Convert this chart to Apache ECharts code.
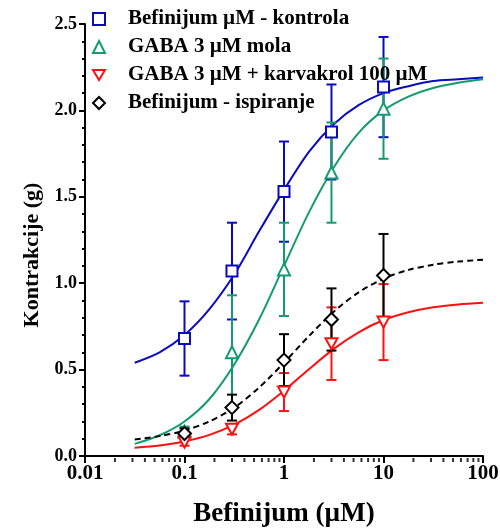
<!DOCTYPE html>
<html>
<head>
<meta charset="utf-8">
<script src="https://cdn.jsdelivr.net/npm/echarts@6/dist/echarts.min.js"></script>
<style>html,body{margin:0;padding:0;background:#fff}#c{width:500px;height:530px}</style>
</head>
<body>
<div id="c"></div>
<script>
// ---- data ----
const doses = [0.1, 0.3, 1, 3, 10];
const kontrolaMean = [0.68, 1.07, 1.53, 1.875, 2.135];
const kontrolaErr  = [0.215, 0.28, 0.29, 0.275, 0.29];
const gabaMean = [0.14, 0.60, 1.08, 1.64, 2.01];
const gabaErr  = [0.03, 0.33, 0.27, 0.29, 0.29];
const karvMean = [0.08, 0.155, 0.37, 0.65, 0.775];
const karvErr  = [0.02, 0.03, 0.11, 0.21, 0.22];
const ispMean = [0.13, 0.28, 0.555, 0.79, 1.045];
const ispErr  = [0.03, 0.075, 0.15, 0.18, 0.24];

// fitted curves (quarter-decade steps)
const curveX = [0.0316, 0.0562, 0.1, 0.178, 0.316, 0.562, 1, 1.78, 3.16, 5.62, 10, 17.8, 31.6, 56.2, 100];
const kontrolaCurve = [0.54, 0.60, 0.70, 0.85, 1.05, 1.30, 1.54, 1.76, 1.92, 2.03, 2.10, 2.14, 2.17, 2.18, 2.19];
const gabaCurve     = [0.07, 0.12, 0.20, 0.33, 0.53, 0.79, 1.10, 1.41, 1.67, 1.87, 2.00, 2.08, 2.13, 2.16, 2.18];
const karvCurve     = [0.048, 0.061, 0.084, 0.122, 0.181, 0.267, 0.378, 0.502, 0.620, 0.716, 0.787, 0.832, 0.861, 0.877, 0.887];
const ispCurve      = [0.096, 0.115, 0.147, 0.20, 0.28, 0.396, 0.54, 0.694, 0.835, 0.947, 1.026, 1.077, 1.107, 1.125, 1.136];

const seriesNames = ['Befinijum \u00b5M - kontrola', 'GABA 3 \u00b5M mola', 'GABA 3 \u00b5M + karvakrol 100 \u00b5M', 'Befinijum - ispiranje'];
const xTickValues = [0.01, 0.1, 1, 10, 100];
const xTickLabels = ['0.01', '0.1', '1', '10', '100'];
const xMinorTicks = [0.02,0.03,0.04,0.05,0.06,0.07,0.08,0.09,
                     0.2,0.3,0.4,0.5,0.6,0.7,0.8,0.9,
                     2,3,4,5,6,7,8,9,
                     20,30,40,50,60,70,80,90];
const xTitle = 'Befinijum (\u00b5M)';
const yTitle = 'Kontrakcije (g)';

// ---- styles ----
const BLUE = '#0A0AC2', GREEN = '#139B6F', RED = '#FF1010', BLACK = '#000000';
const FONT = 'Liberation Serif';

function pairs(xs, ys) { return xs.map((x, i) => [x, ys[i]]); }
function errData(xs, m, e) { return xs.map((x, i) => [x, m[i] - e[i], m[i] + e[i]]); }

function errSeries(data, color) {
  return {
    type: 'custom', data: data, silent: true, z: 3,
    renderItem: function (params, api) {
      const x = api.value(0), lo = api.value(1), hi = api.value(2);
      const pt = api.coord([x, hi]), pb = api.coord([x, lo]);
      const w = 5;
      const st = { stroke: color, lineWidth: 2 };
      return { type: 'group', children: [
        { type: 'line', shape: { x1: pt[0], y1: pt[1], x2: pb[0], y2: pb[1] }, style: st },
        { type: 'line', shape: { x1: pt[0] - w, y1: pt[1], x2: pt[0] + w, y2: pt[1] }, style: st },
        { type: 'line', shape: { x1: pb[0] - w, y1: pb[1], x2: pb[0] + w, y2: pb[1] }, style: st }
      ]};
    }
  };
}
function curveSeries(ys, color, dashed) {
  return {
    type: 'line', data: pairs(curveX, ys), smooth: 0.3, showSymbol: false, silent: true, z: 2,
    lineStyle: { color: color, width: 2, type: dashed ? [6, 4] : 'solid' }
  };
}
function markSeries(name, xs, ys, color, symbol, size) {
  return {
    name: name, type: 'scatter', data: pairs(xs, ys), symbol: symbol, symbolSize: size, z: 4,
    itemStyle: { color: '#ffffff', borderColor: color, borderWidth: 2, opacity: 1 }
  };
}

const chart = echarts.init(document.getElementById('c'), null, { renderer: 'canvas' });
chart.setOption({
  animation: false,
  backgroundColor: '#ffffff',
  grid: { left: 85, right: 17, top: 24, bottom: 74, containLabel: false, outerBoundsMode: 'none' },
  legend: {
    data: seriesNames,
    orient: 'vertical', left: 87, top: 3,
    itemWidth: 12, itemHeight: 12, itemGap: 6,
    textStyle: { fontFamily: FONT, fontWeight: 'bold', fontSize: 21, color: '#000', lineHeight: 22, padding: [0, 0, 0, 18] },
    selectedMode: false
  },
  xAxis: {
    type: 'log', logBase: 10, min: 0.01, max: 100,
    name: xTitle, nameLocation: 'middle', nameGap: 45,
    nameTextStyle: { fontFamily: FONT, fontWeight: 'bold', fontSize: 27, color: '#000' },
    axisLine: { lineStyle: { color: '#000', width: 2 } },
    axisTick: { length: 7, lineStyle: { color: '#000', width: 2 } },
    axisLabel: { fontFamily: FONT, fontWeight: 'bold', fontSize: 21, color: '#000', margin: 7,
      formatter: function (v) { const i = xTickValues.findIndex(t => Math.abs(Math.log10(t) - Math.log10(v)) < 1e-6); return i >= 0 ? xTickLabels[i] : ''; } },
    splitLine: { show: false }
  },
  yAxis: {
    type: 'value', min: 0, max: 2.5, interval: 0.5,
    name: yTitle, nameLocation: 'middle', nameGap: 38,
    nameTextStyle: { fontFamily: FONT, fontWeight: 'bold', fontSize: 22, color: '#000', padding: [0, 30, 0, 0] },
    axisLine: { show: true, lineStyle: { color: '#000', width: 2 } },
    axisTick: { show: true, length: 6, lineStyle: { color: '#000', width: 2 } },
    minorTick: { show: true, splitNumber: 5, length: 3, lineStyle: { color: '#000', width: 2 } },
    axisLabel: { fontFamily: FONT, fontWeight: 'bold', fontSize: 18, color: '#000', margin: 8,
      formatter: function (v) { return v.toFixed(1); } },
    splitLine: { show: false }
  },
  series: [
    {
      type: 'scatter', data: xMinorTicks.map(x => [x, 0]), symbol: 'rect', symbolSize: [2, 4],
      symbolOffset: [0, 4], clip: false, silent: true, z: 5,
      itemStyle: { color: '#000' }
    },
    curveSeries(kontrolaCurve, BLUE, false),
    curveSeries(gabaCurve, GREEN, false),
    curveSeries(karvCurve, RED, false),
    curveSeries(ispCurve, BLACK, true),
    errSeries(errData(doses, kontrolaMean, kontrolaErr), BLUE),
    errSeries(errData(doses, gabaMean, gabaErr), GREEN),
    errSeries(errData(doses, karvMean, karvErr), RED),
    errSeries(errData(doses, ispMean, ispErr), BLACK),
    markSeries(seriesNames[0], doses, kontrolaMean, BLUE, 'rect', 11),
    markSeries(seriesNames[1], doses, gabaMean, GREEN, 'triangle', 12),
    markSeries(seriesNames[2], doses, karvMean, RED, 'path://M0,0 L20,0 L10,17 Z', [12, 11]),
    markSeries(seriesNames[3], doses, ispMean, BLACK, 'diamond', 13)
  ]
});
</script>
</body>
</html>
